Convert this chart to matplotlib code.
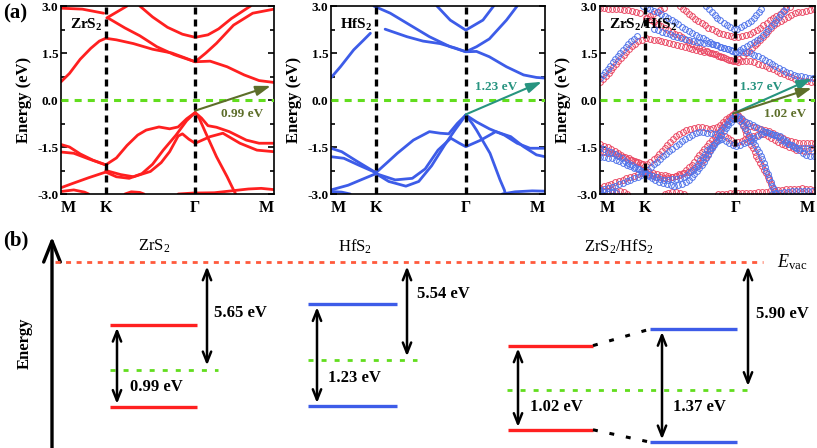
import numpy as np
import matplotlib
matplotlib.use("Agg")
import matplotlib.pyplot as plt
from matplotlib.patches import FancyArrowPatch
from matplotlib.patheffects import AbstractPathEffect
from matplotlib.path import Path
from matplotlib.transforms import Affine2D, IdentityTransform

plt.rcParams['font.family'] = ['Liberation Serif', 'DejaVu Serif']
plt.rcParams['mathtext.fontset'] = 'custom'
plt.rcParams['mathtext.rm'] = 'Liberation Serif'
plt.rcParams['mathtext.it'] = 'Liberation Serif:italic'
plt.rcParams['mathtext.bf'] = 'Liberation Serif:bold'

# ------------------------------------------------------------------ data
k_ticks = [0.0, 0.21, 0.63, 1.0]
k_labels = ['M', 'K', 'Γ', 'M']
e_ticks = [-3.0, -1.5, 0.0, 1.5, 3.0]
e_tick_labels = ['-3.0', '-1.5', '0.0', '1.5', '3.0']
e_minor_ticks = [-2.25, -0.75, 0.75, 2.25]

# ZrS2 bands (k, E in eV)
zr_c1 = [(0, 0.58), (0.04, 0.85), (0.09, 1.3), (0.14, 1.65), (0.18, 1.88), (0.21, 1.97),
         (0.26, 1.92), (0.34, 1.8), (0.43, 1.62), (0.52, 1.5), (0.58, 1.35), (0.63, 1.22),
         (0.70, 1.24), (0.78, 1.06), (0.86, 0.8), (0.93, 0.62), (1.0, 0.56)]
zr_c2 = [(0.22, 2.62), (0.30, 2.3), (0.37, 2.05), (0.45, 1.7), (0.53, 1.45), (0.63, 1.22),
         (0.68, 1.5), (0.73, 1.81), (0.81, 2.39), (0.90, 2.77), (1.0, 2.9)]
zr_c3 = [(0.37, 3.0), (0.43, 2.65), (0.50, 2.32), (0.57, 2.1), (0.63, 2.0), (0.69, 2.08),
         (0.74, 2.27), (0.80, 2.6), (0.89, 3.0)]
zr_c4 = [(0, 2.93), (0.1, 2.9), (0.2, 2.77)]
zr_c5 = [(0.215, 2.62), (0.26, 2.8), (0.31, 3.0)]
zr_v1 = [(0, -1.42), (0.04, -1.5), (0.09, -1.72), (0.15, -1.92), (0.21, -2.07), (0.26, -1.85),
         (0.31, -1.45), (0.36, -1.12), (0.40, -0.96), (0.46, -0.86), (0.51, -0.92),
         (0.55, -0.86), (0.59, -0.6), (0.63, -0.4)]
zr_v2 = [(0, -1.66), (0.06, -1.7), (0.13, -1.88), (0.21, -2.07)]
zr_v3 = [(0.21, -2.3), (0.26, -2.45), (0.32, -2.5), (0.38, -2.35), (0.43, -2.05), (0.48, -1.6),
         (0.54, -1.12), (0.59, -0.66), (0.63, -0.4)]
zr_v4 = [(0.21, -2.25), (0.28, -2.38), (0.34, -2.45), (0.42, -2.28), (0.47, -2.0), (0.51, -1.65),
         (0.55, -1.15), (0.57, -1.08), (0.60, -1.25), (0.63, -1.38), (0.70, -1.17),
         (0.76, -1.06), (0.84, -1.38), (0.92, -1.6), (1.0, -1.65)]
zr_v5 = [(0.63, -0.4), (0.66, -0.58), (0.69, -0.82), (0.73, -0.87), (0.79, -1.01),
         (0.87, -1.28), (0.93, -1.38), (1.0, -1.38)]
zr_v6 = [(0.63, -0.4), (0.65, -0.6), (0.68, -1.06), (0.73, -1.81), (0.78, -2.45),
         (0.81, -2.87), (0.82, -3.0)]
zr_v7 = [(0, -2.8), (0.06, -2.65), (0.13, -2.48), (0.21, -2.3)]
zr_v8 = [(0, -2.92), (0.06, -2.87), (0.11, -2.94), (0.13, -3.0)]
zr_v9 = [(0.30, -3.0), (0.33, -2.93), (0.37, -2.95), (0.39, -3.0)]
zr_v10 = [(0.55, -3.0), (0.62, -2.97), (0.72, -2.96), (0.80, -2.9), (0.88, -2.84),
          (0.94, -2.82), (1.0, -2.86)]
zr_bands = [zr_c1, zr_c2, zr_c3, zr_c4, zr_c5, zr_v1, zr_v2, zr_v3, zr_v4, zr_v5,
            zr_v6, zr_v7, zr_v8, zr_v9, zr_v10]

# HfS2 bands (k, E in eV)
hf_c1 = [(0, 0.71), (0.044, 1.06), (0.106, 1.6), (0.152, 1.91), (0.184, 2.13)]
hf_c2 = [(0.253, 2.26), (0.355, 2.02), (0.43, 1.88), (0.51, 1.8), (0.58, 1.66), (0.63, 1.54),
         (0.68, 1.55), (0.74, 1.38), (0.82, 1.06), (0.90, 0.8), (0.96, 0.72), (1.0, 0.7)]
hf_c3 = [(0.20, 3.0), (0.277, 2.77), (0.355, 2.45), (0.46, 2.02), (0.557, 1.7), (0.63, 1.54),
         (0.68, 1.7), (0.74, 1.95), (0.82, 2.55), (0.87, 3.0)]
hf_c4 = [(0.495, 3.0), (0.557, 2.55), (0.63, 2.23), (0.71, 2.55), (0.76, 3.0)]
hf_v1 = [(0, -1.54), (0.05, -1.65), (0.12, -1.95), (0.21, -2.32), (0.27, -1.95), (0.31, -1.7),
         (0.385, -1.28), (0.46, -1.01), (0.51, -1.06), (0.55, -1.08), (0.59, -0.75),
         (0.63, -0.48)]
hf_v2 = [(0, -1.81), (0.06, -1.86), (0.13, -2.08), (0.21, -2.32)]
hf_v3 = [(0.21, -2.35), (0.27, -2.6), (0.35, -2.75), (0.41, -2.6), (0.47, -2.1), (0.53, -1.45),
         (0.58, -0.95), (0.63, -0.48)]
hf_v4 = [(0.21, -2.35), (0.30, -2.55), (0.38, -2.5), (0.44, -2.2), (0.50, -1.6), (0.56, -1.22),
         (0.60, -1.38), (0.63, -1.49), (0.70, -1.28), (0.77, -1.01), (0.84, -1.17),
         (0.90, -1.49), (0.96, -1.75), (1.0, -1.81)]
hf_v5 = [(0.63, -0.48), (0.68, -0.7), (0.74, -0.92), (0.81, -1.12), (0.87, -1.38),
         (0.93, -1.54), (1.0, -1.54)]
hf_v6 = [(0.63, -0.48), (0.66, -0.75), (0.68, -0.96), (0.743, -1.7), (0.79, -2.55),
         (0.81, -2.87), (0.815, -3.0)]
hf_v7 = [(0, -2.87), (0.08, -2.72), (0.15, -2.52), (0.21, -2.35)]
hf_v8 = [(0, -2.92), (0.05, -2.94), (0.09, -3.0)]
hf_v9 = [(0.80, -3.0), (0.86, -2.93), (0.94, -2.9), (1.0, -2.91)]
hf_bands = [hf_c1, hf_c2, hf_c3, hf_c4, hf_v1, hf_v2, hf_v3, hf_v4, hf_v5, hf_v6,
            hf_v7, hf_v8, hf_v9]

panel_titles = [r'ZrS$_\mathbf{2}$', r'HfS$_\mathbf{2}$', r'ZrS$_\mathbf{2}$/HfS$_\mathbf{2}$']

# gap arrows: (start (k,E), end (k,E))
zr_gap_arrow = [(0.63, -0.34), (0.985, 0.45)]
hf_gap_arrow = [(0.63, -0.46), (0.985, 0.58)]
het_hf_arrow = [(0.62, -0.43), (0.985, 0.68)]
het_zr_arrow = [(0.62, -0.43), (0.985, 0.38)]
gap_arrow_labels = ['0.99 eV', '1.23 eV', '1.37 eV', '1.02 eV']

# (b) band alignment data (eV)
align_titles = [r'ZrS$_\mathrm{2}$', r'HfS$_\mathrm{2}$', r'ZrS$_\mathrm{2}$/HfS$_\mathrm{2}$']
work_function = [5.65, 5.54, 5.90]
wf_labels = ['5.65 eV', '5.54 eV', '5.90 eV']
# levels: ZrS2, HfS2, hetero-ZrS2, hetero-HfS2
band_gap = [0.99, 1.23, 1.02, 1.37]
cbm_above_ef = [0.54, 0.68, 0.54, 0.74]
gap_labels = ['0.99 eV', '1.23 eV', '1.02 eV', '1.37 eV']
VAC_BREAK = 4.35  # schematic compression of the vacuum gap

# ------------------------------------------------------------------ styles
RED = '#ff2020'
BLUE = '#3d5ce8'
CIRC_RED = '#ea4662'
CIRC_BLUE = '#5074ea'
GREEN = '#62dd1e'
OLIVE = '#5d6e2a'
TEAL = '#279480'
VAC_RED = '#ff5a3c'
W, H = 817, 448


class CircleTrail(AbstractPathEffect):
    """Draw hollow circles evenly spaced along the path (fat-band style)."""

    def __init__(self, color, spacing=4.0, radius=2.9, lw=0.7):
        super().__init__()
        self.color, self.spacing, self.radius, self.lw = color, spacing, radius, lw

    def draw_path(self, renderer, gc, tpath, affine, rgbFace=None):
        verts = affine.transform(tpath.vertices)
        d = np.hypot(*np.diff(verts, axis=0).T)
        arc = np.concatenate([[0.0], np.cumsum(d)])
        s = np.arange(0.0, arc[-1] + 1e-9, self.spacing)
        pts = np.column_stack([np.interp(s, arc, verts[:, 0]), np.interp(s, arc, verts[:, 1])])
        gc0 = renderer.new_gc()
        gc0.copy_properties(gc)
        gc0.set_foreground(self.color)
        gc0.set_linewidth(self.lw)
        gc0.set_dashes(0, None)
        renderer.draw_markers(gc0, Path.unit_circle(), Affine2D().scale(self.radius),
                              Path(pts), IdentityTransform(), None)
        gc0.restore()


fig = plt.figure(figsize=(W / 100, H / 100), dpi=100)

panel_px = [(61, 274), (331, 545), (600, 815)]
top_px, bot_px = 6, 194
axes = []
for (l, r) in panel_px:
    ax = fig.add_axes([l / W, (H - bot_px) / H, (r - l) / W, (bot_px - top_px) / H])
    ax.set_xlim(0, 1)
    ax.set_ylim(-3, 3)
    ax.set_yticks(e_ticks)
    ax.set_yticklabels(e_tick_labels)
    ax.set_yticks(e_minor_ticks, minor=True)
    ax.set_xticks(k_ticks)
    ax.set_xticklabels(k_labels)
    ax.tick_params(axis='y', which='both', direction='in', left=True, right=True,
                   width=1.2, labelsize=9.5, pad=2)
    ax.tick_params(axis='y', which='major', length=4)
    ax.tick_params(axis='y', which='minor', length=2.8)
    ax.tick_params(axis='x', length=0, labelsize=11.5, pad=4)
    for lab in ax.get_xticklabels() + ax.get_yticklabels():
        lab.set_fontweight('bold')
    xl = ax.get_xticklabels()
    xl[0].set_horizontalalignment('left')
    xl[-1].set_horizontalalignment('right')
    for sp in ax.spines.values():
        sp.set_linewidth(1.2)
    ax.set_ylabel('Energy (eV)', fontsize=12, fontweight='bold')
    ax.yaxis.set_label_coords(-0.135, 0.5)
    for kx in k_ticks[1:3]:
        ax.axvline(kx, color='black', lw=2.4, dashes=(2.1, 1.5), zorder=3)
    ax.axhline(0, color=GREEN, lw=2.2, dashes=(2.3, 2.0), zorder=3)
    axes.append(ax)

# panel 1: ZrS2
for b in zr_bands:
    k, e = zip(*b)
    axes[0].plot(k, e, color=RED, lw=2.0, zorder=2, solid_capstyle='round')
# panel 2: HfS2
for b in hf_bands:
    k, e = zip(*b)
    axes[1].plot(k, e, color=BLUE, lw=2.0, zorder=2, solid_capstyle='round')
# panel 3: heterostructure, projected fat bands
for b in zr_bands:
    k, e = zip(*b)
    axes[2].plot(k, e, lw=1, zorder=2, path_effects=[CircleTrail(CIRC_RED)])
for b in hf_bands:
    k, e = zip(*b)
    axes[2].plot(k, e, lw=1, zorder=2, path_effects=[CircleTrail(CIRC_BLUE)])

for ax, t in zip(axes, panel_titles):
    ax.text(0.04, 2.4, t, fontsize=11, fontweight='bold', ha='left', va='center', zorder=5)


def gap_arrow(ax, arr, color):
    ax.add_patch(FancyArrowPatch(arr[0], arr[1], arrowstyle='-|>,head_length=9,head_width=3',
                                 color=color, lw=1.5, shrinkA=0, shrinkB=0, zorder=6))


gap_arrow(axes[0], zr_gap_arrow, OLIVE)
gap_arrow(axes[1], hf_gap_arrow, TEAL)
gap_arrow(axes[2], het_hf_arrow, TEAL)
gap_arrow(axes[2], het_zr_arrow, OLIVE)
axes[0].text(0.85, -0.45, gap_arrow_labels[0], color=OLIVE, fontsize=9.5, fontweight='bold',
             ha='center', va='center', zorder=6)
axes[1].text(0.77, 0.42, gap_arrow_labels[1], color=TEAL, fontsize=9.5, fontweight='bold',
             ha='center', va='center', zorder=6)
axes[2].text(0.75, 0.42, gap_arrow_labels[2], color=TEAL, fontsize=9.5, fontweight='bold',
             ha='center', va='center', zorder=6)
axes[2].text(0.86, -0.45, gap_arrow_labels[3], color=OLIVE, fontsize=9.5, fontweight='bold',
             ha='center', va='center', zorder=6)

fig.text(3 / W, 1 - 13 / H, '(a)', fontsize=15, fontweight='bold', ha='left', va='center')

# ------------------------------------------------------------------ (b)
axb = fig.add_axes([0, 0, 1, 223 / H])
axb.set_xlim(0, W)
axb.set_ylim(-2.251, 0.452)
axb.axis('off')

fermi = [-(wf - VAC_BREAK) for wf in work_function]
level_fermi = [fermi[0], fermi[1], fermi[2], fermi[2]]
cbm = [ef + c for ef, c in zip(level_fermi, cbm_above_ef)]
vbm = [c - g for c, g in zip(cbm, band_gap)]

# layout (horizontal positions in pixels)
level_x = [(110, 197), (308, 397), (508, 593), (650, 737)]
level_col = [RED, BLUE, RED, BLUE]
gap_arrow_x = [117, 317, 518, 662]
gap_text_x = [130, 328, 530, 673]
fermi_x = [(110, 218), (308, 417), (507, 755)]
wf_arrow_x = [207, 407, 748]
wf_text_x = [214, 417, 756]
wf_text_y = [-0.61, -0.38, -0.63]
title_x = [154, 355, 619]

# vacuum level
axb.plot([55, 763], [0, 0], color=VAC_RED, lw=2.0, dashes=(1.8, 2.0))
axb.text(777, 0, r'$E_{\mathrm{vac}}$', fontsize=13, ha='left', va='center')

# energy axis arrow
axb.add_patch(FancyArrowPatch((52, -2.26), (52, 0.31), arrowstyle='->,head_length=15,head_width=6',
                              color='black', lw=2.4, shrinkA=0, shrinkB=0))
axb.text(25, -0.98, 'Energy', rotation=90, fontsize=12, fontweight='bold', ha='center', va='center')
axb.text(3, 0.27, '(b)', fontsize=15, fontweight='bold', ha='left', va='center')

for i in range(3):
    axb.text(title_x[i], 0.19, align_titles[i], fontsize=12, ha='center', va='center')
    x0, x1 = fermi_x[i]
    axb.plot([x0, x1], [fermi[i], fermi[i]], color=GREEN, lw=2.0, dashes=(1.8, 2.9))
    axb.annotate('', xy=(wf_arrow_x[i], fermi[i]), xytext=(wf_arrow_x[i], 0),
                 arrowprops=dict(arrowstyle='<->,head_length=0.75,head_width=0.3', lw=1.8,
                                 color='black', shrinkA=3, shrinkB=3))
    axb.text(wf_text_x[i], wf_text_y[i], wf_labels[i], fontsize=12, fontweight='bold',
             ha='left', va='center')

for j in range(4):
    x0, x1 = level_x[j]
    axb.plot([x0, x1], [cbm[j], cbm[j]], color=level_col[j], lw=2.4, solid_capstyle='butt')
    axb.plot([x0, x1], [vbm[j], vbm[j]], color=level_col[j], lw=2.4, solid_capstyle='butt')
    axb.annotate('', xy=(gap_arrow_x[j], vbm[j]), xytext=(gap_arrow_x[j], cbm[j]),
                 arrowprops=dict(arrowstyle='<->,head_length=0.75,head_width=0.3', lw=1.8,
                                 color='black', shrinkA=2, shrinkB=2))
    axb.text(gap_text_x[j], level_fermi[j] - 0.21, gap_labels[j], fontsize=12,
             fontweight='bold', ha='left', va='center')

# dotted connectors between heterostructure levels
for lv in (cbm, vbm):
    axb.plot([level_x[2][1], level_x[3][0]], [lv[2], lv[3]], color='black', lw=2.2,
             dashes=(1.6, 3.9))

fig.savefig('out.png', dpi=100)
